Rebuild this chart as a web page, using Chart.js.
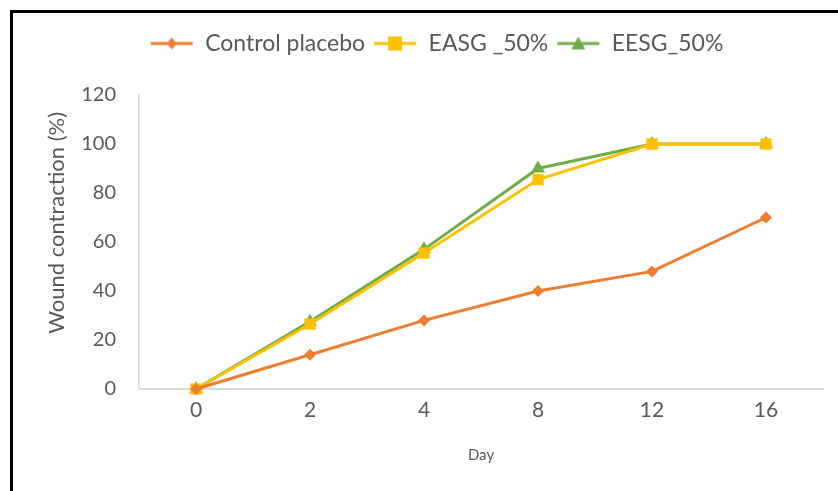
<!DOCTYPE html>
<html>
<head>
<meta charset="utf-8">
<script src="https://cdn.jsdelivr.net/npm/chart.js@4"></script>
<style>
  html, body { margin: 0; padding: 0; background: #ffffff; }
  #wrap { position: relative; width: 838px; height: 491px; overflow: hidden; background: #fff; }
  #frame { position: absolute; left: 10px; top: 10px; width: 900px; height: 600px;
           border-left: 3px solid #000; border-top: 3px solid #000; box-sizing: border-box; pointer-events: none; }
  canvas { position: absolute; left: 0; top: 0; }
</style>
</head>
<body>
<div id="wrap">
  <canvas id="c" width="838" height="491"></canvas>
  <div id="frame"></div>
</div>
<script>
const days = ['0', '2', '4', '8', '12', '16'];
const controlPlacebo = [0, 14, 28, 40, 48, 70];
const easg50 = [0, 26.5, 55.5, 85.5, 100, 100];
const eesg50 = [0, 27.5, 57, 90, 100, 100];
const seriesNames = ['Control placebo', 'EASG _50%', 'EESG_50%'];
const yTicks = [0, 20, 40, 60, 80, 100, 120];

const ORANGE = '#ED7D31', GOLD = '#FFC000', GREEN = '#70AD47';
const TEXT = '#595959';
const FONT = 'Lato, "Open Sans", sans-serif';

function legendIcon(color, style) {
  const w = 44, h = 20;
  const cv = document.createElement('canvas');
  cv.width = w; cv.height = h;
  const g = cv.getContext('2d');
  g.strokeStyle = color; g.lineWidth = 3;
  g.beginPath(); g.moveTo(1, h / 2); g.lineTo(w - 1, h / 2); g.stroke();
  g.fillStyle = color;
  const cx = w / 2, cy = h / 2;
  g.beginPath();
  if (style === 'rectRot') {
    g.moveTo(cx, cy - 6); g.lineTo(cx + 5, cy); g.lineTo(cx, cy + 6); g.lineTo(cx - 5, cy);
  } else if (style === 'rect') {
    g.rect(cx - 7, cy - 7, 14, 14);
  } else {
    g.moveTo(cx, cy - 7); g.lineTo(cx + 7, cy + 6); g.lineTo(cx - 7, cy + 6);
  }
  g.closePath(); g.fill();
  return cv;
}

const styles = ['rectRot', 'rect', 'triangle'];
const colors = [ORANGE, GOLD, GREEN];
const icons = colors.map((c, i) => legendIcon(c, styles[i]));

const legendSpacing = {
  id: 'legendSpacing',
  beforeInit(chart) {
    const origFit = chart.legend.fit;
    chart.legend.fit = function () {
      origFit.bind(chart.legend)();
      this.height += 30;
    };
  },
  afterLayout(chart) {
    chart.legend.left += 25;
    chart.legend.right += 25;
  }
};

new Chart(document.getElementById('c'), {
  type: 'line',
  data: {
    labels: days,
    datasets: [
      { label: seriesNames[0], data: controlPlacebo, borderColor: ORANGE, backgroundColor: ORANGE,
        borderWidth: 3, pointStyle: 'rectRot', pointRadius: 6, pointBorderWidth: 0, clip: false },
      { label: seriesNames[1], data: easg50, borderColor: GOLD, backgroundColor: GOLD,
        borderWidth: 3, pointStyle: 'rect', pointRadius: 8, pointBorderWidth: 0, clip: false },
      { label: seriesNames[2], data: eesg50, borderColor: GREEN, backgroundColor: GREEN,
        borderWidth: 3, pointStyle: 'triangle', pointRadius: 8, pointBorderWidth: 0, clip: false }
    ]
  },
  options: {
    responsive: false,
    animation: false,
    layout: { padding: { top: 24, left: 0, right: 15, bottom: 0 } },
    plugins: {
      tooltip: { enabled: false },
      legend: {
        position: 'top',
        labels: {
          color: TEXT,
          font: { family: FONT, size: 23 },
          padding: 8,
          usePointStyle: true,
          pointStyleWidth: 44,
          generateLabels(chart) {
            return chart.data.datasets.map((ds, i) => ({
              text: ds.label, pointStyle: icons[i], fillStyle: colors[i], strokeStyle: colors[i],
              lineWidth: 0, hidden: false, datasetIndex: i, fontColor: TEXT
            }));
          }
        }
      }
    },
    scales: {
      x: {
        offset: true,
        grid: { display: false, drawTicks: false },
        border: { display: true, color: '#D9D9D9', width: 2 },
        ticks: { color: TEXT, font: { family: FONT, size: 21 }, padding: 9 },
        title: { display: true, text: 'Day', color: TEXT, font: { family: FONT, size: 15 }, padding: { top: 0, bottom: 27 } },
        afterFit(scale) { scale.height = 102; }
      },
      y: {
        min: 0, max: 120,
        afterBuildTicks(scale) { scale.ticks = yTicks.map(v => ({ value: v })); },
        grid: { display: false, drawTicks: false },
        border: { display: true, color: '#D9D9D9', width: 1.5 },
        ticks: { color: TEXT, font: { family: FONT, size: 20 }, padding: 23 },
        title: { display: true, text: '\u2007\u2007\u2007Wound contraction (%)', color: TEXT, font: { family: FONT, size: 22 }, padding: { top: 44, bottom: 0 } },
        afterFit(scale) { scale.width = 139; }
      }
    }
  },
  plugins: [legendSpacing]
});
</script>
</body>
</html>
